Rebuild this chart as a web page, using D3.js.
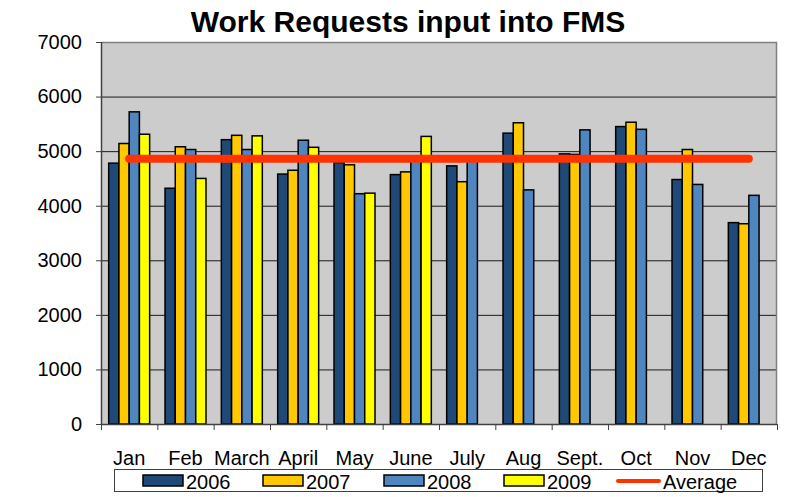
<!DOCTYPE html>
<html>
<head>
<meta charset="utf-8">
<script src="https://cdn.jsdelivr.net/npm/d3@7"></script>
<style>
  body { margin: 0; background: #fff; }
  svg { display: block; font-family: "Liberation Sans", Arial, sans-serif; }
</style>
</head>
<body>
<svg id="chart"></svg>
<script>
// Data
const months = ["Jan", "Feb", "March", "April", "May", "June", "July", "Aug", "Sept.", "Oct", "Nov", "Dec"];
const years = ["2006", "2007", "2008", "2009"];
const v2006 = [4780, 4320, 5210, 4580, 4790, 4570, 4730, 5330, 4950, 5450, 4480, 3690];
const v2007 = [5140, 5080, 5290, 4650, 4750, 4620, 4440, 5520, 4940, 5530, 5030, 3670];
const v2008 = [5720, 5030, 5030, 5200, 4220, 4850, 4850, 4290, 5390, 5400, 4390, 4190];
const v2009 = [5310, 4500, 5280, 5070, 4230, 5270, null, null, null, null, null, null];
const average = [4860, 4860, 4860, 4860, 4860, 4860, 4860, 4860, 4860, 4860, 4860, 4860];
const yTicks = [0, 1000, 2000, 3000, 4000, 5000, 6000, 7000];

const colors = ["#1f4a78", "#ffc800", "#4f86bf", "#ffff00"];
const avgColor = "#ff3300";

const W = 792, H = 497;
const margin = { top: 42, right: 15, bottom: 73, left: 101 };
const iw = W - margin.left - margin.right;
const ih = H - margin.top - margin.bottom;

const svg = d3.select("#chart").attr("width", W).attr("height", H);

// title
svg.append("text")
   .attr("x", 408).attr("y", 32)
   .attr("text-anchor", "middle")
   .attr("font-size", 30).attr("font-weight", "bold")
   .text("Work Requests input into FMS");

const g = svg.append("g").attr("transform", `translate(${margin.left},${margin.top})`);

const x = d3.scaleBand().domain(months).range([0, iw]).paddingInner(0.2727).paddingOuter(0.1364);
const xs = d3.scaleBand().domain(years).range([0, x.bandwidth()]);
const xEdge = d3.scaleLinear().domain([0, 12]).range([0, iw]);
const y = d3.scaleLinear().domain([0, 7000]).range([ih, 0]);

// plot background
g.append("rect").attr("width", iw).attr("height", ih).attr("fill", "#cccccc");

// gridlines
g.append("g")
   .call(d3.axisLeft(y).tickValues(yTicks.slice(1, -1)).tickSize(-iw).tickFormat(""))
   .call(a => a.select(".domain").remove())
   .selectAll("line").attr("stroke", "#1a1a1a").attr("stroke-width", 1);

// plot border (top, right)
g.append("path")
   .attr("d", `M0,0.5H${iw - 0.5}V${ih}`)
   .attr("fill", "none").attr("stroke", "#808080").attr("stroke-width", 1.5);

// bars
const series = [v2006, v2007, v2008, v2009];
series.forEach((vals, si) => {
   g.append("g").selectAll("rect")
      .data(vals.map((v, i) => ({ m: months[i], v })).filter(d => d.v != null))
      .enter().append("rect")
      .attr("x", d => x(d.m) + xs(years[si]))
      .attr("y", d => y(d.v))
      .attr("width", xs.bandwidth())
      .attr("height", d => y(0) - y(d.v))
      .attr("fill", colors[si])
      .attr("stroke", "#000")
      .attr("stroke-width", 1.5);
});

// average line
const line = d3.line().x((d, i) => x(months[i]) + x.bandwidth() / 2).y(d => y(d));
g.append("path")
   .attr("d", line(average))
   .attr("fill", "none")
   .attr("stroke", avgColor)
   .attr("stroke-width", 8)
   .attr("stroke-linecap", "round");

// y axis
const yAxis = g.append("g")
   .call(d3.axisLeft(y).tickValues(yTicks).tickSize(5).tickPadding(14).tickFormat(d3.format("d")));
yAxis.select(".domain").attr("stroke", "#404040").attr("stroke-width", 1.5).attr("d", `M0.5,0V${ih}`);
yAxis.selectAll("line").attr("stroke", "#404040");
yAxis.selectAll("text").attr("font-size", 20).attr("font-family", "Liberation Sans, Arial, sans-serif").attr("fill", "#000");

// x axis boundary ticks
const xAxis = g.append("g").attr("transform", `translate(0,${ih})`)
   .call(d3.axisBottom(xEdge).tickValues(d3.range(13)).tickSize(6).tickFormat(""));
xAxis.select(".domain").attr("stroke", "#404040").attr("stroke-width", 1.5).attr("d", `M0,0.5H${iw}`);
xAxis.selectAll("line").attr("stroke", "#404040");

// month labels
const xLab = g.append("g").attr("transform", `translate(0,${ih})`)
   .call(d3.axisBottom(x).tickSize(0).tickPadding(27));
xLab.select(".domain").remove();
xLab.selectAll("text").attr("font-size", 20).attr("font-family", "Liberation Sans, Arial, sans-serif").attr("fill", "#000");

// legend
const leg = svg.append("g");
leg.append("rect")
   .attr("x", 114.5).attr("y", 469.5).attr("width", 648).attr("height", 22)
   .attr("fill", "#fff").attr("stroke", "#404040").attr("stroke-width", 1);
const legX = [143, 263, 384, 504];
years.forEach((yr, i) => {
   leg.append("rect")
      .attr("x", legX[i]).attr("y", 475).attr("width", 40).attr("height", 11)
      .attr("fill", colors[i]).attr("stroke", "#000").attr("stroke-width", 1.5);
   leg.append("text")
      .attr("x", legX[i] + 43).attr("y", 489)
      .attr("font-size", 20).text(yr);
});
leg.append("line")
   .attr("x1", 618).attr("x2", 659).attr("y1", 481).attr("y2", 481)
   .attr("stroke", avgColor).attr("stroke-width", 4).attr("stroke-linecap", "round");
leg.append("text").attr("x", 663).attr("y", 489).attr("font-size", 20).text("Average");
</script>
</body>
</html>
